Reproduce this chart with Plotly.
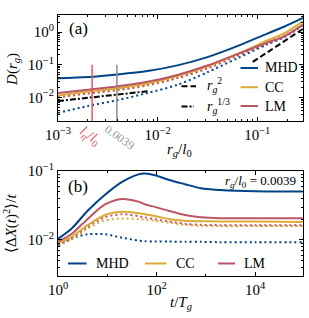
import plotly.graph_objects as go

# ---------------- data: panel (a) ----------------
rg = [0.001, 0.002, 0.004, 0.0079, 0.0158, 0.0316, 0.063, 0.126, 0.19, 0.288]
D_MHD = [0.0388, 0.0423, 0.0508, 0.0644, 0.096, 0.171, 0.37, 0.897, 1.5, 2.7]
D_CC = [0.0116, 0.0152, 0.0193, 0.0267, 0.045, 0.0897, 0.213, 0.551, 0.947, 2.13]
D_LM = [0.01375, 0.0174, 0.0221, 0.0302, 0.049, 0.0947, 0.211, 0.474, 0.762, 1.68]
D_MHD_dot = [0.0034, 0.0055, 0.0084, 0.0137, 0.0245, 0.059, 0.157, 0.42, 0.72, 1.63]
D_CC_dot = [0.0098, 0.0133, 0.0168, 0.0233, 0.0393, 0.0784, 0.193, 0.515, 0.916, 2.13]
D_LM_dot = [0.0105, 0.0133, 0.0171, 0.0238, 0.0393, 0.0773, 0.184, 0.444, 0.738, 1.68]

r2_x = [0.09, 0.288]
r2_y = [0.122, 1.25]
r13_x = [0.001, 0.008]
r13_y = [0.0078, 0.0156]

l_eta = 0.0022
rg_sel = 0.0039
vline_y = [0.1, 0.0019]

# ---------------- data: panel (b) ----------------
t = [1, 1.9, 4, 9, 20, 43, 58, 93, 175, 380, 800, 1950, 10000, 93000]
X_MHD = [0.0104, 0.0147, 0.0265, 0.0452, 0.0695, 0.0895, 0.092, 0.087, 0.0748, 0.0644, 0.0561, 0.0531, 0.0508, 0.0505]
X_LM = [0.0095, 0.0123, 0.0202, 0.0328, 0.0394, 0.036, 0.033, 0.0302, 0.0265, 0.023, 0.0214, 0.0207, 0.0207, 0.0207]
X_CC = [0.0091, 0.0112, 0.0164, 0.023, 0.0256, 0.0245, 0.0237, 0.0223, 0.0202, 0.019, 0.0187, 0.0186, 0.0185, 0.0183]
X_MHD_dot = [0.0081, 0.0105, 0.0121, 0.0121, 0.0108, 0.0098, 0.0096, 0.0095, 0.0095, 0.0094, 0.0094, 0.0093, 0.0093, 0.0093]
X_LM_dot = [0.0087, 0.0108, 0.0155, 0.0214, 0.0236, 0.0222, 0.0212, 0.02, 0.0186, 0.0172, 0.0166, 0.0164, 0.0164, 0.0164]
X_CC_dot = [0.0085, 0.0102, 0.0147, 0.0192, 0.0205, 0.0202, 0.0197, 0.019, 0.0178, 0.0166, 0.0161, 0.0159, 0.0159, 0.0159]

names = ["MHD", "CC", "LM"]
colors = {"MHD": "#004488", "CC": "#DDAA33", "LM": "#BB5566"}
RED = "#E5565F"
GRAY = "#8C8C8C"
FONT = "Liberation Serif"

W, H = 309, 318
L, R, T, B = 58, 6, 5, 42
PW, PH = W - L - R, H - T - B


def px(x):
    return (x - L) / PW


def py(y):
    return (H - B - y) / PH


fig = go.Figure()

DOT = "2px,3px"
# panel (a)
for nm, ys in zip(names, [D_MHD_dot, D_CC_dot, D_LM_dot]):
    fig.add_trace(go.Scatter(x=rg, y=ys, mode="lines", xaxis="x", yaxis="y",
                             line=dict(color=colors[nm], width=2, dash=DOT, shape="spline", smoothing=0.8),
                             showlegend=False))
for nm, ys in zip(names, [D_MHD, D_CC, D_LM]):
    fig.add_trace(go.Scatter(x=rg, y=ys, mode="lines", xaxis="x", yaxis="y",
                             line=dict(color=colors[nm], width=2, shape="spline", smoothing=0.8),
                             showlegend=False))
fig.add_trace(go.Scatter(x=r2_x, y=r2_y, mode="lines", xaxis="x", yaxis="y",
                         line=dict(color="black", width=2, dash="6px,3px"), showlegend=False))
fig.add_trace(go.Scatter(x=r13_x, y=r13_y, mode="lines", xaxis="x", yaxis="y",
                         line=dict(color="black", width=2, dash="6px,2px,2px,2px"), showlegend=False))
fig.add_trace(go.Scatter(x=[l_eta, l_eta], y=vline_y, mode="lines", xaxis="x", yaxis="y",
                         line=dict(color=RED, width=1.5), showlegend=False))
fig.add_trace(go.Scatter(x=[rg_sel, rg_sel], y=vline_y, mode="lines", xaxis="x", yaxis="y",
                         line=dict(color=GRAY, width=1.5), showlegend=False))

# panel (b)
for nm, ys in zip(names, [X_MHD_dot, X_CC_dot, X_LM_dot]):
    fig.add_trace(go.Scatter(x=t, y=ys, mode="lines", xaxis="x2", yaxis="y2",
                             line=dict(color=colors[nm], width=2, dash=DOT, shape="spline", smoothing=0.8),
                             showlegend=False))
for nm, ys in zip(names, [X_MHD, X_CC, X_LM]):
    fig.add_trace(go.Scatter(x=t, y=ys, mode="lines", xaxis="x2", yaxis="y2",
                             line=dict(color=colors[nm], width=2, shape="spline", smoothing=0.8),
                             showlegend=False))


def minors(decades, subs=range(2, 10)):
    return [s * 10 ** d for d in decades for s in subs]


sup = lambda e: "10<sup>%s</sup>" % (str(e).replace("-", "\u2212"))

axis_common = dict(type="log", showline=True, linecolor="black", linewidth=1, mirror="allticks",
                   ticks="inside", ticklen=4, tickwidth=1, tickcolor="black", showgrid=False,
                   zeroline=False, tickfont=dict(family=FONT, size=15, color="black"))

fig.update_layout(
    width=W, height=H, margin=dict(l=L, r=R, t=T, b=B),
    paper_bgcolor="white", plot_bgcolor="white",
    font=dict(family=FONT, size=14, color="black"),
    hovermode=False,
    xaxis=dict(axis_common, domain=[0, 1], anchor="y", range=[-3, -0.541],
               tickmode="array", tickvals=[1e-3, 1e-2, 1e-1], ticktext=[sup(-3), sup(-2), sup(-1)],
               minor=dict(tickvals=minors([-3, -2, -1]), ticks="inside", ticklen=2, tickcolor="black")),
    yaxis=dict(axis_common, domain=[py(115), 1], anchor="x", range=[-2.715, 0.52],
               tickmode="array", tickvals=[1e-2, 1e-1, 1], ticktext=[sup(-2), sup(-1), sup(0)],
               minor=dict(tickvals=minors([-3, -2, -1, 0]), ticks="inside", ticklen=2, tickcolor="black")),
    xaxis2=dict(axis_common, domain=[0, 1], anchor="y2", range=[0, 4.974],
                tickmode="array", tickvals=[1, 1e2, 1e4], ticktext=[sup(0), sup(2), sup(4)],
                minor=dict(tickvals=[10, 1e3], ticks="inside", ticklen=2, tickcolor="black")),
    yaxis2=dict(axis_common, domain=[0, py(167)], anchor="x2", range=[-2.522, -1.0],
                tickmode="array", tickvals=[1e-2, 1e-1], ticktext=[sup(-2), sup(-1)],
                minor=dict(tickvals=minors([-3, -2]), ticks="inside", ticklen=2, tickcolor="black")),
)

shapes = []
annotations = []


def seg(x0, x1, y, color, dash="solid"):
    shapes.append(dict(type="line", xref="paper", yref="paper", x0=px(x0), x1=px(x1), y0=py(y), y1=py(y),
                       line=dict(color=color, width=2, dash=dash)))


def txt(x, y, s, size=14, color="black", xanchor="left", angle=0):
    annotations.append(dict(xref="paper", yref="paper", x=px(x), y=py(y), text=s, showarrow=False,
                            xanchor=xanchor, yanchor="middle", textangle=angle,
                            font=dict(family=FONT, size=size, color=color)))


# legend panel (a)
for nm, y in zip(names, [60, 80, 99.5]):
    seg(240.5, 258, y, colors[nm])
    txt(263, y, nm, size=14)
seg(181.5, 196, 79, "black", "6px,3px")
txt(205, 78, "<i>r</i><sub><i>g</i></sub><sup>2</sup>")
seg(181.5, 194, 100, "black", "6px,2px,2px,2px")
txt(205, 99, "<i>r</i><sub><i>g</i></sub><sup>1/3</sup>")

# legend panel (b)
for nm, x0, x1, xt in zip(names, [68, 145, 218], [86.5, 166.5, 235], [94, 174, 242]):
    seg(x0, x1, 263, colors[nm])
    txt(xt, 263, nm, size=14)

# panel labels & annotations
txt(78, 19, "(a)", size=17, xanchor="center")
txt(78, 183, "(b)", size=17, xanchor="center")
txt(298, 178, "<i>r</i><sub><i>g</i></sub>/<i>l</i><sub>0</sub> = 0.0039", size=13, xanchor="right")
txt(90, 131, "<i>l</i><sub><i>η</i></sub>/<i>l</i><sub>0</sub>", size=14, color=RED, xanchor="center", angle=35)
txt(119, 132, "0.0039", size=12, color="#999999", xanchor="center", angle=35)

# axis titles
txt(179, 145, "<i>r</i><sub><i>g</i></sub>/<i>l</i><sub>0</sub>", size=15, xanchor="center")
txt(181, 304, "<i>t</i>/<i>T</i><sub><i>g</i></sub>", size=15, xanchor="center")
txt(13, 62, "<i>D</i>(<i>r</i><sub><i>g</i></sub>)", size=15, xanchor="center", angle=-90)
txt(11, 222, "⟨Δ<i>X</i>(<i>t</i>)<sup>2</sup>⟩/<i>t</i>", size=15, xanchor="center", angle=-90)

fig.update_layout(shapes=shapes, annotations=annotations)
fig.write_html("out.html", config={"displayModeBar": False},
               post_script="document.body.style.margin='0px';")
